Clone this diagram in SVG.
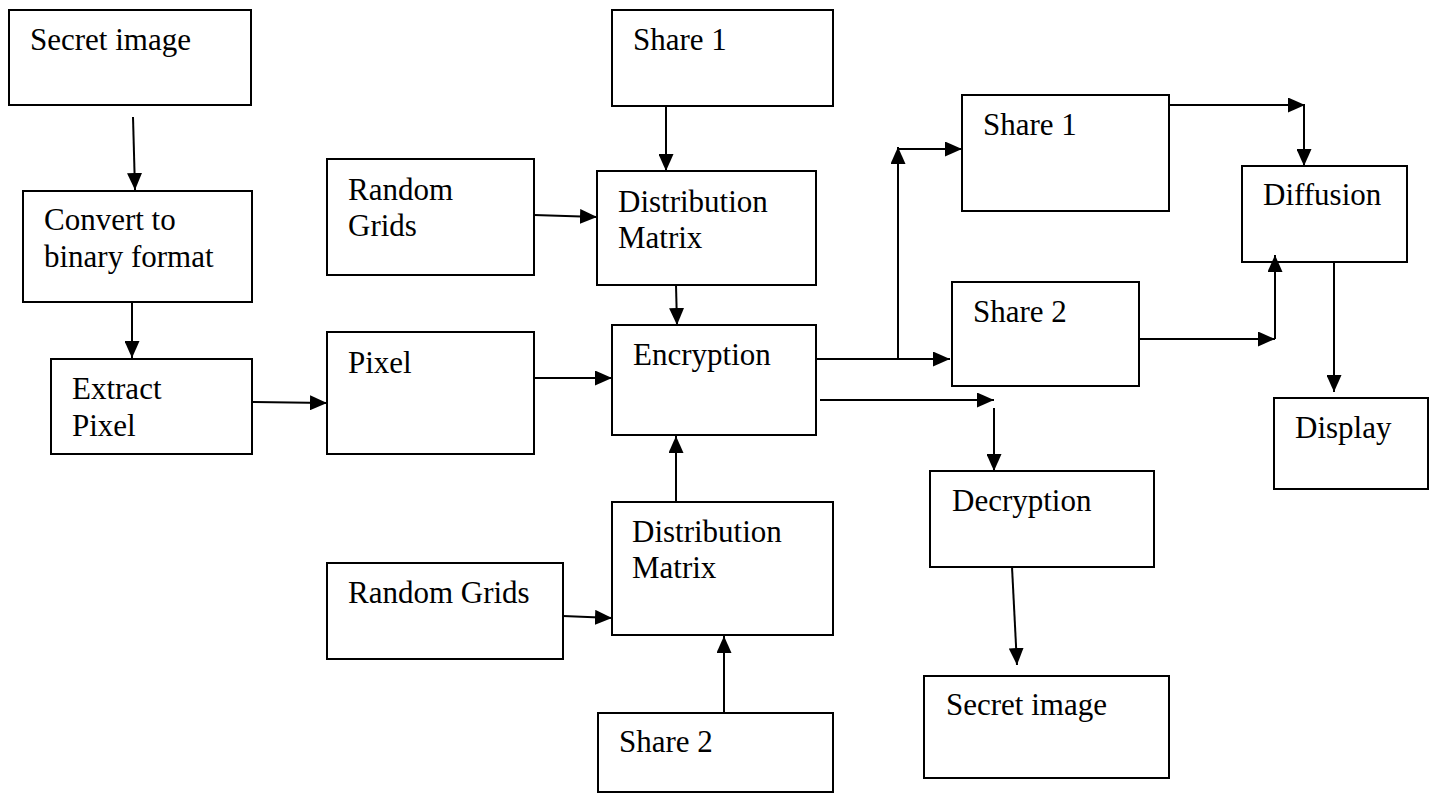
<svg xmlns="http://www.w3.org/2000/svg" width="1437" height="794" viewBox="0 0 1437 794">
<style>
.box{fill:#fff;stroke:#000;stroke-width:2}
.lbl{font-family:"Liberation Serif","Times New Roman",serif;font-size:31px;fill:#000}
.c{fill:none;stroke:#000;stroke-width:2}
.a{marker-end:url(#ah)}
</style>
<defs>
<marker id="ah" markerUnits="userSpaceOnUse" markerWidth="17" markerHeight="15" refX="17" refY="7.5" orient="auto" viewBox="0 0 17 15">
<path d="M0,0 L17,7.5 L0,15 z" fill="#000"/>
</marker>
</defs>
<rect width="1437" height="794" fill="#fff"/>
<g id="secret1"><rect class="box" x="9" y="10" width="242" height="95"/><text class="lbl" x="30" y="50">Secret image</text></g>
<g id="convert"><rect class="box" x="23" y="191" width="229" height="111"/><text class="lbl" x="44" y="230">Convert to</text><text class="lbl" x="44" y="267">binary format</text></g>
<g id="extract"><rect class="box" x="51" y="359" width="201" height="95"/><text class="lbl" x="72" y="399">Extract</text><text class="lbl" x="72" y="436">Pixel</text></g>
<g id="randomgrids1"><rect class="box" x="327" y="159" width="207" height="116"/><text class="lbl" x="348" y="200">Random</text><text class="lbl" x="348" y="236">Grids</text></g>
<g id="pixel"><rect class="box" x="327" y="332" width="207" height="122"/><text class="lbl" x="348" y="373">Pixel</text></g>
<g id="share1top"><rect class="box" x="612" y="10" width="221" height="96"/><text class="lbl" x="633" y="50">Share 1</text></g>
<g id="distmatrix1"><rect class="box" x="597" y="171" width="219" height="114"/><text class="lbl" x="618" y="212">Distribution</text><text class="lbl" x="618" y="248">Matrix</text></g>
<g id="encryption"><rect class="box" x="612" y="325" width="204" height="110"/><text class="lbl" x="633" y="365">Encryption</text></g>
<g id="distmatrix2"><rect class="box" x="612" y="502" width="221" height="133"/><text class="lbl" x="632" y="542">Distribution</text><text class="lbl" x="632" y="578">Matrix</text></g>
<g id="randomgrids2"><rect class="box" x="327" y="563" width="236" height="96"/><text class="lbl" x="348" y="603">Random Grids</text></g>
<g id="share2bottom"><rect class="box" x="598" y="713" width="235" height="79"/><text class="lbl" x="619" y="752">Share 2</text></g>
<g id="share1right"><rect class="box" x="962" y="95" width="207" height="116"/><text class="lbl" x="983" y="135">Share 1</text></g>
<g id="share2right"><rect class="box" x="952" y="282" width="187" height="104"/><text class="lbl" x="973" y="322">Share 2</text></g>
<g id="decryption"><rect class="box" x="930" y="471" width="224" height="96"/><text class="lbl" x="952" y="511">Decryption</text></g>
<g id="secret2"><rect class="box" x="924" y="676" width="245" height="102"/><text class="lbl" x="946" y="715">Secret image</text></g>
<g id="diffusion"><rect class="box" x="1242" y="166" width="165" height="96"/><text class="lbl" x="1263" y="205">Diffusion</text></g>
<g id="display"><rect class="box" x="1274" y="398" width="154" height="91"/><text class="lbl" x="1295" y="438">Display</text></g>
<g id="connectors">
<line class="c a" x1="133" y1="117" x2="135" y2="190"/>
<line class="c a" x1="132" y1="302" x2="132" y2="358"/>
<line class="c a" x1="252" y1="402" x2="327" y2="403"/>
<line class="c a" x1="666" y1="106" x2="666" y2="171"/>
<line class="c a" x1="534" y1="215" x2="597" y2="217"/>
<line class="c a" x1="676" y1="285" x2="677" y2="325"/>
<line class="c a" x1="534" y1="378" x2="612" y2="378"/>
<line class="c a" x1="676" y1="502" x2="676" y2="436"/>
<line class="c a" x1="563" y1="616" x2="612" y2="618"/>
<line class="c a" x1="724" y1="713" x2="724" y2="636"/>
<line class="c a" x1="816" y1="359" x2="950" y2="359"/>
<line class="c a" x1="898" y1="359" x2="898" y2="147"/>
<line class="c a" x1="898" y1="149" x2="962" y2="149"/>
<line class="c a" x1="820" y1="400" x2="994" y2="400"/>
<line class="c a" x1="994" y1="408" x2="994" y2="471"/>
<line class="c a" x1="1012" y1="567" x2="1017" y2="665"/>
<line class="c a" x1="1169" y1="105" x2="1305" y2="105"/>
<line class="c a" x1="1304" y1="105" x2="1304" y2="166"/>
<line class="c a" x1="1139" y1="339" x2="1275" y2="339"/>
<line class="c a" x1="1275" y1="339" x2="1275" y2="255"/>
<line class="c a" x1="1334" y1="262" x2="1334" y2="392"/>
</g>
</svg>
